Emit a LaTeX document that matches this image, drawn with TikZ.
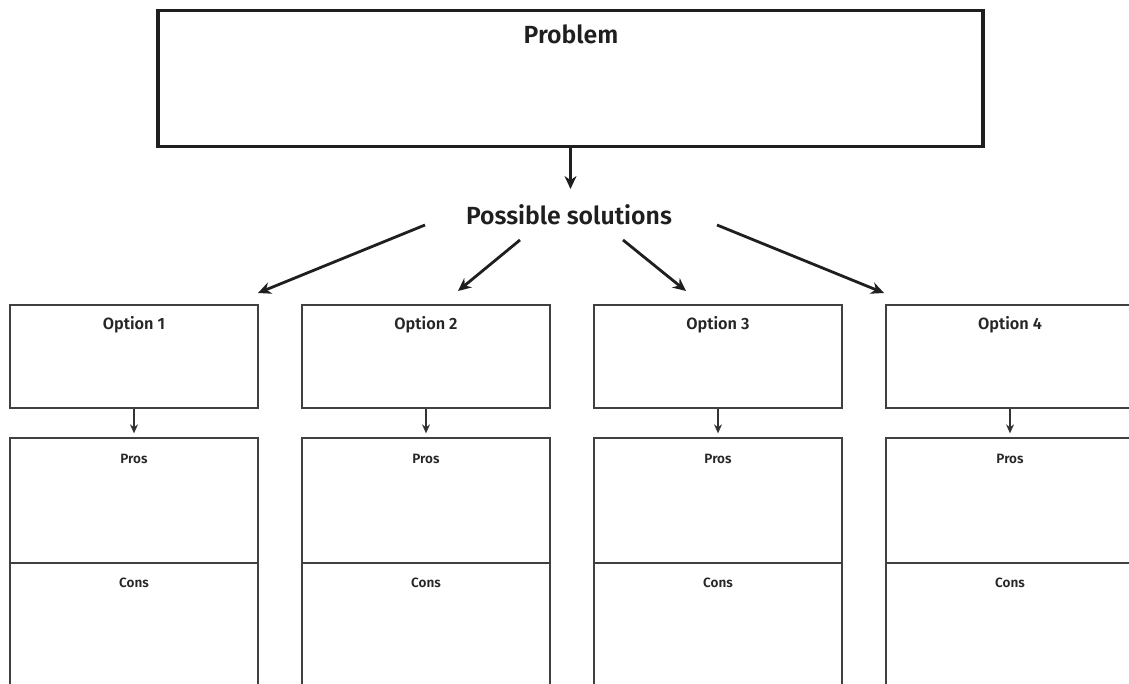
\documentclass[tikz,border=0pt]{standalone}
\usepackage{fontspec}
\setmainfont{Fira Sans}[BoldFont={* SemiBold}]
\usetikzlibrary{arrows.meta}
\begin{document}
\begin{tikzpicture}[x=1pt,y=-1pt,
  bigbox/.style={draw=black!88, line width=3.8pt, minimum width=825pt, minimum height=136pt, inner sep=0pt},
  optbox/.style={draw=black!75, line width=1.3pt, minimum width=248pt, minimum height=103pt, inner sep=0pt},
  probox/.style={draw=black!75, line width=1.3pt, minimum width=248pt, minimum height=125pt, inner sep=0pt},
  conbox/.style={draw=black!75, line width=1.3pt, minimum width=248pt, minimum height=160pt, inner sep=0pt},
  bigarrow/.style={draw=black!88, line width=2.8pt, -{Stealth[length=13pt,width=12pt]}},
  smallarrow/.style={draw=black!80, line width=1.2pt, -{Stealth[length=9pt,width=8pt]}},
  lbl/.style={font=\bfseries\fontsize{16.3}{18}\selectfont, text=black!85},
  slbl/.style={font=\bfseries\fontsize{13.5}{15}\selectfont, text=black!85},
  biglbl/.style={font=\bfseries\fontsize{24.8}{28}\selectfont, text=black!88}]
\useasboundingbox (0,0) rectangle (1129,684);
\clip (0,0) rectangle (1129,684);
\fill[white] (0,0) rectangle (1129,684);
\node[bigbox] (prob) at (570.5,78.5) {};
\node[biglbl] (probt) at (571,34) {Problem};
\node[biglbl] (sol) at (569,215) {Possible solutions};
\coordinate (solin) at (570.5,189);
\draw[bigarrow] (prob.south) -- (solin);
\foreach \i/\x in {1/134,2/426,3/718,4/1010}{
  \node[optbox] (o\i) at (\x,356.5) {};
  \node[lbl] (ot\i) at (\x,325) {Option \i};
  \node[probox] (p\i) at (\x,500.5) {};
  \node[slbl] (pt\i) at (\x,459) {Pros};
  \node[conbox] (c\i) at (\x,643) {};
  \node[slbl] (ct\i) at (\x,583) {Cons};
  \draw[smallarrow] (o\i.south) -- ([yshift=4pt]p\i.north);
}
\coordinate (a1s) at (425,225); \coordinate (a1e) at (258,293);
\coordinate (a2s) at (520,240); \coordinate (a2e) at (458,291);
\coordinate (a3s) at (623,240); \coordinate (a3e) at (686,291);
\coordinate (a4s) at (717,225); \coordinate (a4e) at (884,293);
\draw[bigarrow] (a1s) -- (a1e);
\draw[bigarrow] (a2s) -- (a2e);
\draw[bigarrow] (a3s) -- (a3e);
\draw[bigarrow] (a4s) -- (a4e);
\end{tikzpicture}
\end{document}
